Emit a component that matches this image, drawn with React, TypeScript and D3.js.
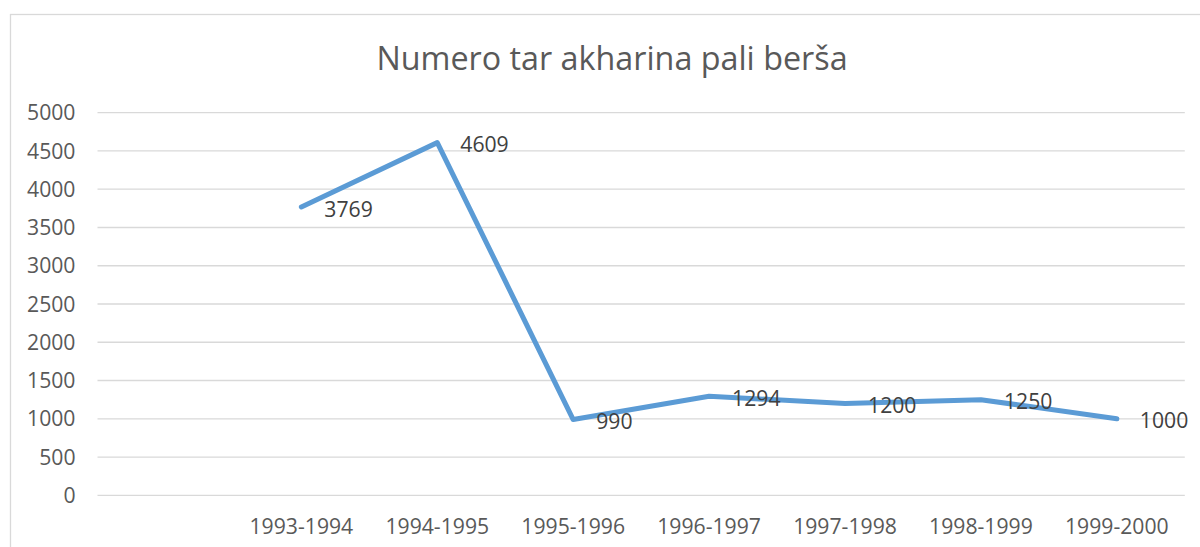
import React from "react";
import * as d3 from "d3";

const categories = ["", "1993-1994", "1994-1995", "1995-1996", "1996-1997", "1997-1998", "1998-1999", "1999-2000"];
const values: (number | null)[] = [null, 3769, 4609, 990, 1294, 1200, 1250, 1000];
const yTicks = [0, 500, 1000, 1500, 2000, 2500, 3000, 3500, 4000, 4500, 5000];
const title = "Numero tar akharina pali berša";

const W = 1200;
const H = 547;
const FONT = "'Open Sans', sans-serif";
const TEXT = "#595959";

export default function App() {
  const x = d3.scaleBand<string>().domain(categories.map((c, i) => String(i))).range([97.5, 1184.8]);
  const y = d3.scaleLinear().domain([0, 5000]).range([495.3, 112.7]);
  const pts = values
    .map((v, i) => ({ v, i }))
    .filter((d) => d.v !== null) as { v: number; i: number }[];
  const cx = (i: number) => (x(String(i)) as number) + x.bandwidth() / 2;
  const line = d3
    .line<{ v: number; i: number }>()
    .x((d) => cx(d.i))
    .y((d) => y(d.v));

  return (
    <svg width={W} height={H} style={{ position: "absolute", left: 0, top: 0 }} fontFamily={FONT}>
      <rect x={0} y={0} width={W} height={H} fill="#fff" />
      <rect x={10.5} y={14.5} width={1205} height={560} fill="none" stroke="#D9D9D9" strokeWidth={1.3} />
      <text x={612} y={69.5} textAnchor="middle" fontSize={32.3} fill={TEXT}>
        {title}
      </text>
      {yTicks.map((t) => (
        <g key={t}>
          <line x1={97.5} x2={1184.8} y1={y(t)} y2={y(t)} stroke="#D9D9D9" strokeWidth={1.3} />
          <text x={75.5} y={y(t)} dy="0.36em" textAnchor="end" fontSize={21.2} fill={TEXT}>
            {t}
          </text>
        </g>
      ))}
      {categories.map((c, i) => (
        <text key={i} x={cx(i)} y={533.5} textAnchor="middle" fontSize={21.2} fill={TEXT}>
          {c}
        </text>
      ))}
      <path d={line(pts) as string} fill="none" stroke="#5B9BD5" strokeWidth={5} strokeLinejoin="round" strokeLinecap="round" />
      {pts.map((d) => (
        <text key={d.i} x={cx(d.i) + 23} y={y(d.v) + 2} dy="0.36em" fontSize={21.2} fill="#404040">
          {d.v}
        </text>
      ))}
    </svg>
  );
}
